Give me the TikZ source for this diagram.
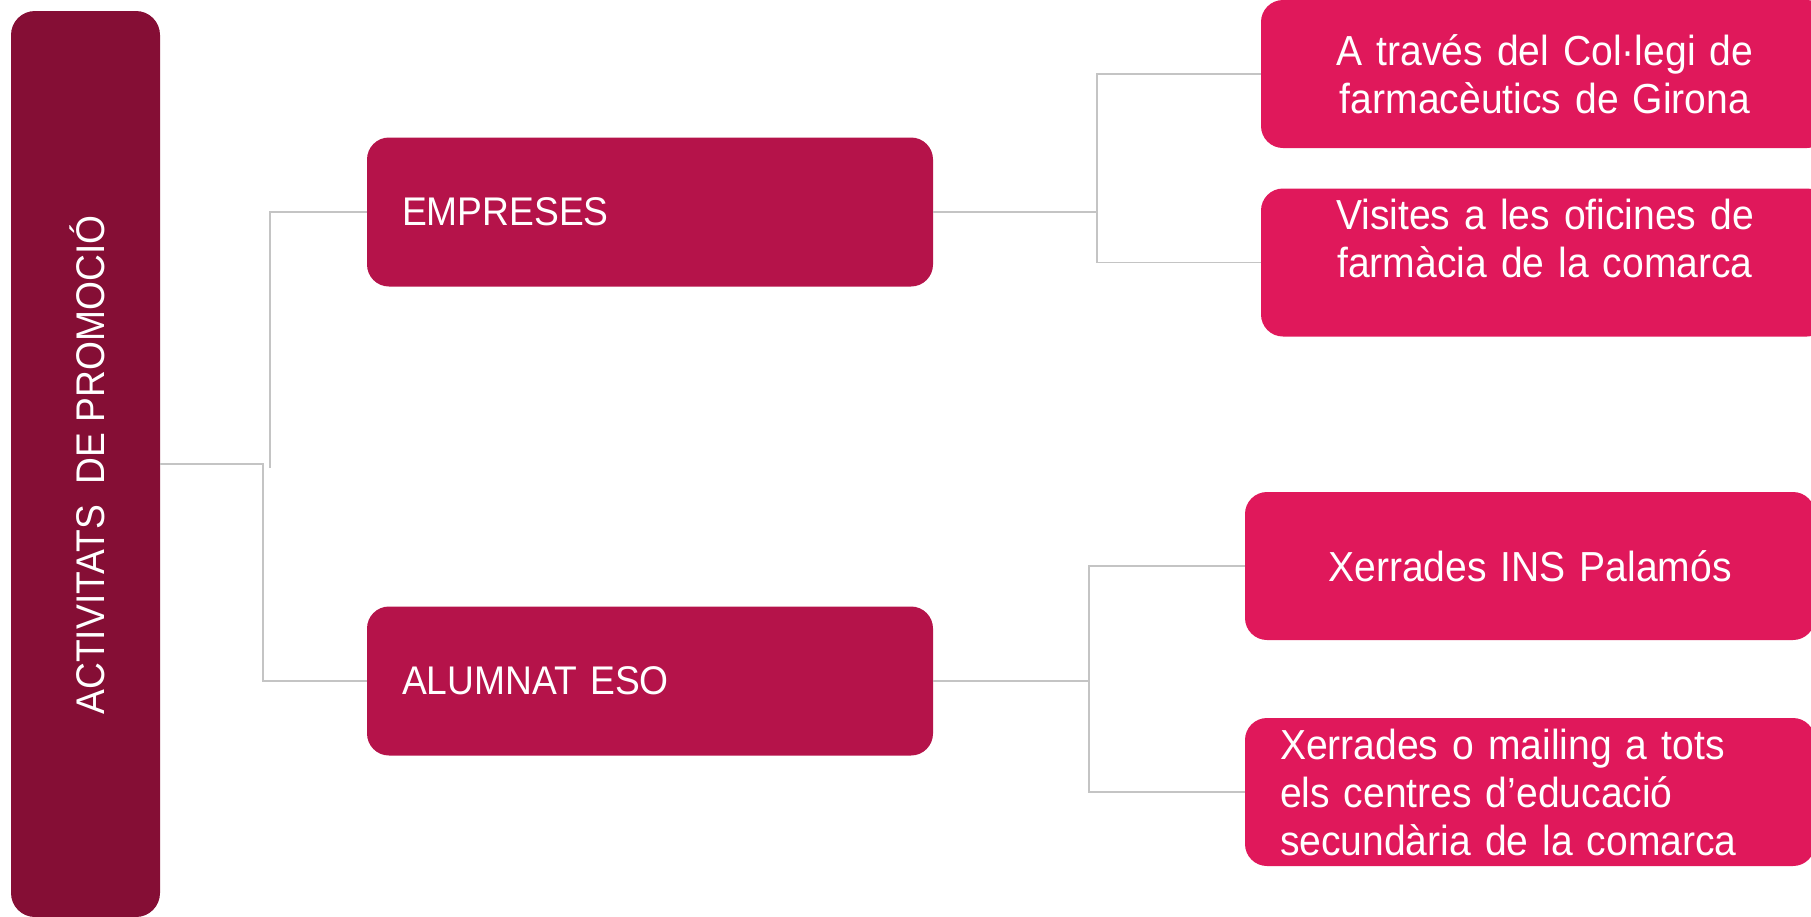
\documentclass[tikz,border=0pt]{standalone}
\usepackage{fontspec}
\setmainfont{Liberation Sans}[FakeStretch=0.93]
\definecolor{rootc}{HTML}{850E35}
\definecolor{midc}{HTML}{B5134A}
\definecolor{leafc}{HTML}{E0185B}
\definecolor{linec}{HTML}{C4C4C4}
\tikzset{
  rootbox/.style={rectangle, rounded corners=24pt, fill=rootc, text=white, inner sep=0pt,
    minimum width=149pt, minimum height=906pt, font=\fontsize{40}{48}\selectfont},
  midbox/.style={rectangle, rounded corners=22pt, fill=midc, text=white, inner xsep=35pt, inner ysep=0pt,
    text width=496pt, align=left, minimum height=149pt, font=\fontsize{40}{48}\selectfont},
  leafbox/.style={rectangle, rounded corners=22pt, fill=leafc, text=white, inner xsep=20pt, inner ysep=0pt,
    text width=528pt, align=center, minimum height=148pt, font=\fontsize{42}{48}\selectfont},
  leafleft/.style={leafbox, inner xsep=35pt, text width=500pt, align=left},
  conn/.style={draw=linec, line width=1.6pt}
}
\begin{document}
\begin{tikzpicture}[x=1pt, y=-1pt]
\useasboundingbox (0,0) rectangle (1811,916);
% boxes
\node[rootbox] (root) at (85.5,464) {};
\node[rotate=90, text=white, font=\fontsize{40}{48}\selectfont] (roottext) at (87,465) {ACTIVITATS~~DE PROMOCIÓ};
\node[midbox] (emp) at (650,212) {EMPRESES};
\node[midbox] (alu) at (650,681) {ALUMNAT ESO};
\node[leafbox] (t1) at (1545,74) {A través del Col·legi de\\farmacèutics de Girona};
\node[leafbox] (t2) at (1545,262.5) {Visites a les oficines de\\farmàcia de la comarca\\\mbox{}};
\node[leafbox, text width=530pt] (t3) at (1530,566) {Xerrades INS Palamós};
\node[leafleft] (t4) at (1530,792) {Xerrades o mailing a tots\\els centres d’educació\\secundària de la comarca};
% junctions
\coordinate (j1) at (263,464);
\coordinate (j2) at (270,468);
\coordinate (j3) at (1097,212);
\coordinate (j4) at (1089,681);
% connectors
\draw[conn] (root.east) -- (j1) |- (alu.west);
\draw[conn] (j2) |- (emp.west);
\draw[conn] (emp.east) -- (j3);
\draw[conn] (t1.west) -| (j3) |- (t2.west);
\draw[conn] (alu.east) -- (j4);
\draw[conn] (t3.west) -| (j4) |- (t4.west);
\end{tikzpicture}
\end{document}
